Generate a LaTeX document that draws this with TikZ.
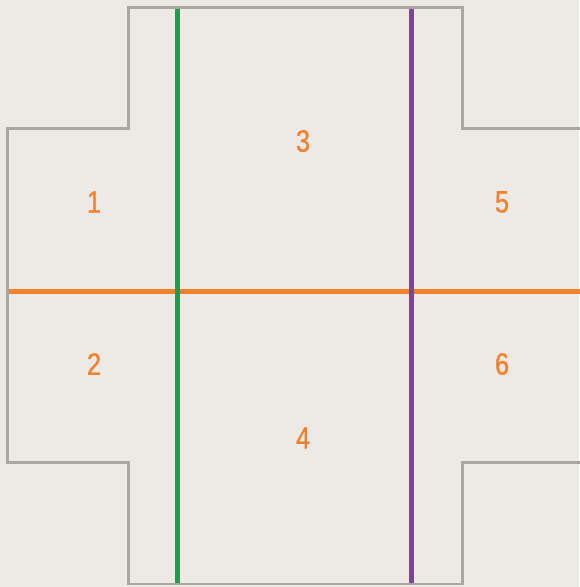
\documentclass[tikz,border=0pt]{standalone}
\usepackage{fontspec}
\setmainfont{Liberation Sans}
\newfontfamily\numfont[FakeStretch=0.82,FakeBold=0.6]{Liberation Sans}
\definecolor{bgc}{HTML}{EDE9E5}
\definecolor{outl}{HTML}{A9A7A4}
\definecolor{grn}{HTML}{14A24B}
\definecolor{prp}{HTML}{7E449A}
\definecolor{org}{HTML}{F47F2C}
\begin{document}
\begin{tikzpicture}[x=1pt,y=-1pt,
  outline/.style={draw=outl,line width=2.5pt},
  divider/.style={line width=5pt},
  num/.style={text=org,font=\numfont\fontsize{31}{31}\selectfont,inner sep=0pt}]
\fill[bgc] (0,0) rectangle (579,587);
\useasboundingbox (0,0) rectangle (579,587);
\draw[outline] (590,128.5) -- (462.5,128.5) -- (462.5,7.5) -- (128.5,7.5) -- (128.5,128.5) -- (7.5,128.5)
  -- (7.5,462.5) -- (128.5,462.5) -- (128.5,584) -- (462.5,584) -- (462.5,462.5) -- (590,462.5);
\coordinate (gt) at (177.5,8.5);
\coordinate (gb) at (177.5,583);
\coordinate (pt) at (411,8.5);
\coordinate (pb) at (411,583);
\coordinate (ol) at (8.5,291.5);
\coordinate (or) at (590,291.5);
\draw[divider,org] (ol) -- (or);
\draw[divider,grn] (gt) -- (gb);
\draw[divider,prp] (pt) -- (pb);
\node[num] (n1) at (94,202) {1};
\node[num] (n2) at (94,364) {2};
\node[num] (n3) at (303,141) {3};
\node[num] (n4) at (303,438) {4};
\node[num] (n5) at (502,202) {5};
\node[num] (n6) at (502,364) {6};
\end{tikzpicture}
\end{document}
